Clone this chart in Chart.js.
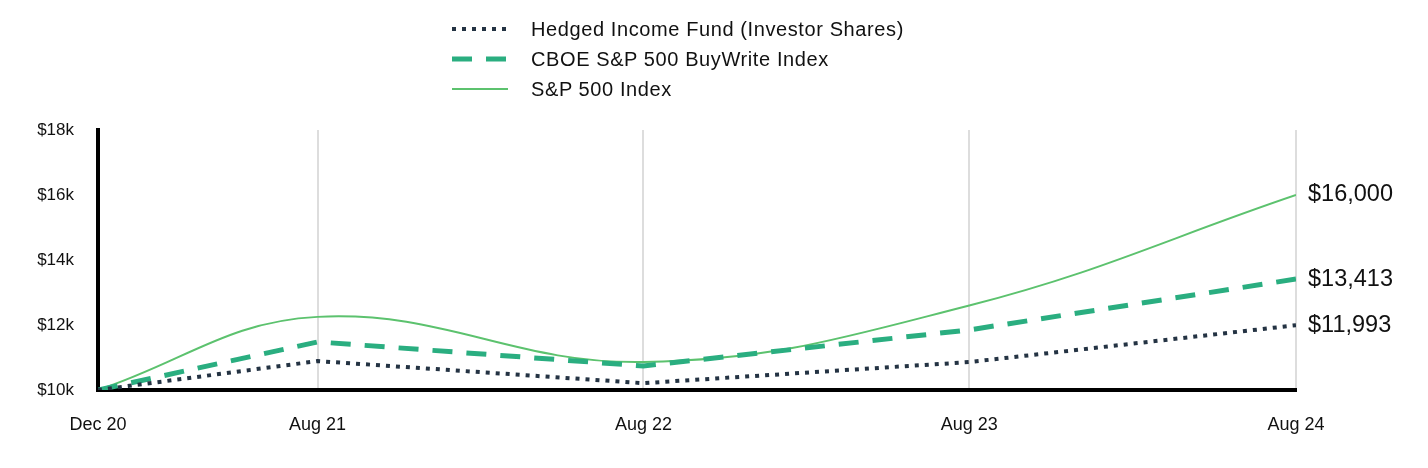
<!DOCTYPE html>
<html>
<head>
<meta charset="utf-8">
<script src="https://cdn.jsdelivr.net/npm/chart.js@4.4.1/dist/chart.umd.min.js"></script>
<style>
  html, body { margin: 0; padding: 0; background: #fff; }
  #wrap { position: relative; width: 1428px; height: 468px; }
  #legend { position: absolute; left: 452px; top: 14px; font-family: "Liberation Sans", Arial, sans-serif; font-size: 20px; letter-spacing: 0.6px; color: #111; }
  .row { display: flex; align-items: center; height: 30px; }
  .row svg { width: 56px; height: 10px; margin-right: 23px; }
</style>
</head>
<body>
<div id="wrap">
  <canvas id="chart"></canvas>
  <div id="legend"></div>
</div>
<script>
// days since fund start (late Dec 2020)
const tickDays = [0, 246, 611, 976, 1342];
const tickLabels = ['Dec 20', 'Aug 21', 'Aug 22', 'Aug 23', 'Aug 24'];

const seriesNames = ['Hedged Income Fund (Investor Shares)', 'CBOE S&P 500 BuyWrite Index', 'S&P 500 Index'];
const fundValues = [10000, 10890, 10210, 10860, 11993];
const buyWriteValues = [10000, 11480, 10740, 11850, 13413];
const spValues = [10000, 12250, 10860, 12600, 16000];

const colors = ['#243343', '#2aae80', '#5cc26e'];

function toPoints(vals) {
    return vals.map((v, i) => ({ x: tickDays[i], y: v }));
}

const datasets = [
    { label: seriesNames[0], data: toPoints(fundValues), borderColor: colors[0], borderWidth: 4, borderDash: [4, 6], tension: 0 },
    { label: seriesNames[1], data: toPoints(buyWriteValues), borderColor: colors[1], borderWidth: 5, borderDash: [20, 14], tension: 0 },
    { label: seriesNames[2], data: toPoints(spValues), borderColor: colors[2], borderWidth: 2, tension: 0.4 }
];

// html legend
const legendEl = document.getElementById('legend');
datasets.forEach(d => {
    const dash = d.borderDash ? d.borderDash.join(',') : 'none';
    legendEl.innerHTML += `
        <div class="row">
            <svg viewBox="0 0 56 10"><line x1="0" y1="5" x2="56" y2="5" stroke="${d.borderColor}" stroke-width="${d.borderWidth}" stroke-dasharray="${dash}"/></svg>
            <span>${d.label}</span>
        </div>`;
});

const endLabels = {
    id: 'endLabels',
    afterDatasetsDraw(chart) {
        const ctx = chart.ctx;
        ctx.save();
        ctx.font = '23.5px "Liberation Sans", Arial, sans-serif';
        ctx.fillStyle = '#111';
        ctx.textBaseline = 'middle';
        chart.data.datasets.forEach((ds, i) => {
            const pts = chart.getDatasetMeta(i).data;
            const last = pts[pts.length - 1];
            const v = ds.data[ds.data.length - 1].y;
            ctx.fillText('$' + v.toLocaleString('en-US'), last.x + 12, last.y);
        });
        ctx.restore();
    }
};

const family = '"Liberation Sans", Arial, sans-serif';

new Chart(document.getElementById('chart'), {
    type: 'line',
    data: { datasets },
    options: {
        responsive: true,
        maintainAspectRatio: false,
        animation: false,
        layout: { padding: { top: 130, right: 132, left: 0, bottom: 0 } },
        elements: { point: { radius: 0 } },
        plugins: { legend: { display: false }, tooltip: { enabled: false } },
        scales: {
            x: {
                type: 'linear',
                min: tickDays[0],
                max: tickDays[tickDays.length - 1],
                afterBuildTicks: s => { s.ticks = tickDays.map(v => ({ value: v })); },
                afterFit: s => { s.height = 78; },
                ticks: {
                    color: '#111',
                    font: { family, size: 18 },
                    padding: 24,
                    maxRotation: 0,
                    callback: (v) => tickLabels[tickDays.indexOf(v)]
                },
                grid: { color: '#dddddd', lineWidth: 2, drawTicks: false },
                border: { color: '#000', width: 4 }
            },
            y: {
                min: 10000,
                max: 18000,
                afterFit: s => { s.width = 98; },
                ticks: {
                    stepSize: 2000,
                    color: '#111',
                    font: { family, size: 17 },
                    padding: 24,
                    callback: v => '$' + (v / 1000) + 'k'
                },
                grid: { display: false, drawTicks: false },
                border: { color: '#000', width: 4 }
            }
        }
    },
    plugins: [endLabels]
});
</script>
</body>
</html>
